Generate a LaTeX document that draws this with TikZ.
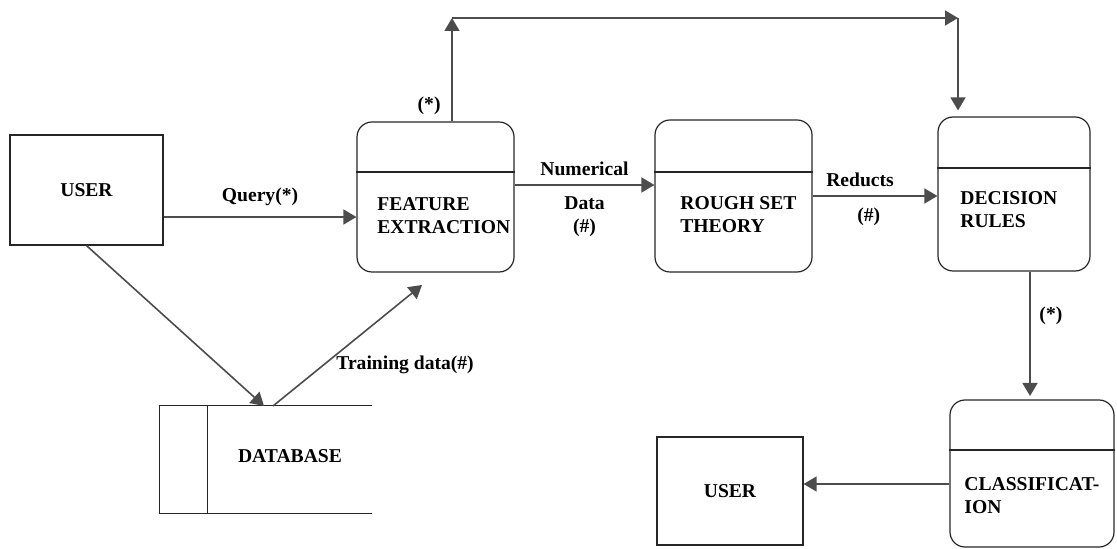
\documentclass[tikz,border=0pt]{standalone}
\usepackage{fontspec}
\setmainfont{Liberation Serif}
\usetikzlibrary{positioning, arrows.meta, calc}

\begin{document}
\begin{tikzpicture}[
        x=0.5pt, y=-0.5pt,
        >={Triangle[length=6.5pt, width=7.5pt]},
        font=\fontsize{9.8}{11.5}\selectfont\bfseries,
        flow/.style={draw=black!70, line width=0.8pt, ->},
        entity/.style={draw=black!85, line width=0.6pt, rectangle, inner sep=0pt},
        process/.style={entity, rounded corners=7.5pt},
        boxtext/.style={anchor=west, align=left, inner sep=0pt},
    ]
        \useasboundingbox (0,0) rectangle (1117,549);

        % External entities
        \node[entity, minimum width=76.5pt, minimum height=55pt] (U1) at (86.5,190) {USER};
        \node[entity, minimum width=73pt, minimum height=54pt] (U2) at (730,491) {USER};

        % Processes
        \node[process, minimum width=78.5pt, minimum height=75pt] (FE) at (435.5,197) {};
        \node[process, minimum width=78.5pt, minimum height=76pt] (RS) at (733.5,196) {};
        \node[process, minimum width=76pt, minimum height=77pt] (DR) at (1014,194) {};
        \node[process, minimum width=82pt, minimum height=73.5pt] (CL) at (1032,473.5) {};

        \foreach \name / \y in {FE/172, RS/172, DR/168, CL/450}
            \draw[black!85, line width=0.6pt] (\name.west |- 0,\y) -- (\name.east |- 0,\y);

        \node[boxtext] (FE-text) at (377,216) {FEATURE\\EXTRACTION};
        \node[boxtext] (RS-text) at (680,215) {ROUGH SET\\THEORY};
        \node[boxtext] (DR-text) at (960,210) {DECISION\\RULES};
        \node[boxtext] (CL-text) at (964,496) {CLASSIFICAT-\\ION};

        % Data store
        \node[minimum width=106pt, minimum height=53.5pt, inner sep=0pt] (DB) at (266,459.5) {};
        \draw[black!85, line width=0.6pt] (DB.north east) -- (DB.north west) -- (DB.south west) -- (DB.south east);
        \draw[black!85, line width=0.6pt] (DB.north west) ++(24pt,0) -- ++(0,-53.5pt);
        \node (DB-text) at (290,456) {DATABASE};

        % Free ends of the connectors
        \coordinate (db-in) at (264,406);
        \coordinate (db-out) at (273,406);
        \coordinate (fe-in) at (422,285);
        \coordinate (turn1) at (452,18);
        \coordinate (turn2) at (958,18);
        \coordinate (cl-in) at (1030,398);

        % Data flows
        \draw[flow] (U1.east |- 0,217) -- node[above=2pt] {Query(*)} (FE.west |- 0,217);
        \draw[flow] (FE.east |- 0,185) -- node[above=1pt] {Numerical} node[below=2pt, align=center] {Data\\(\#)} (RS.west |- 0,185);
        \draw[flow] (RS.east |- 0,196) -- node[pos=0.38, above=1pt] {Reducts} node[pos=0.45, below=2pt] {(\#)} (DR.west |- 0,196);
        \draw[flow] (U1.south) -- (db-in);
        \draw[flow] (db-out) -- node[pos=0.42, anchor=north west, inner sep=0pt] {Training data(\#)} (fe-in);
        \draw[flow] (turn1 |- FE.north) -- node[pos=0.15, left=2pt] {(*)} (turn1);
        \draw[flow] (turn1) -- (turn2);
        \draw[flow, shorten >=3pt] (turn2) -- (turn2 |- DR.north);
        \draw[flow, shorten >=1pt] (cl-in |- DR.south) -- node[pos=0.35, right=1pt] {(*)} (cl-in);
        \draw[flow] (CL.west |- 0,484) -- (U2.east |- 0,484);
    \end{tikzpicture}
\end{document}
